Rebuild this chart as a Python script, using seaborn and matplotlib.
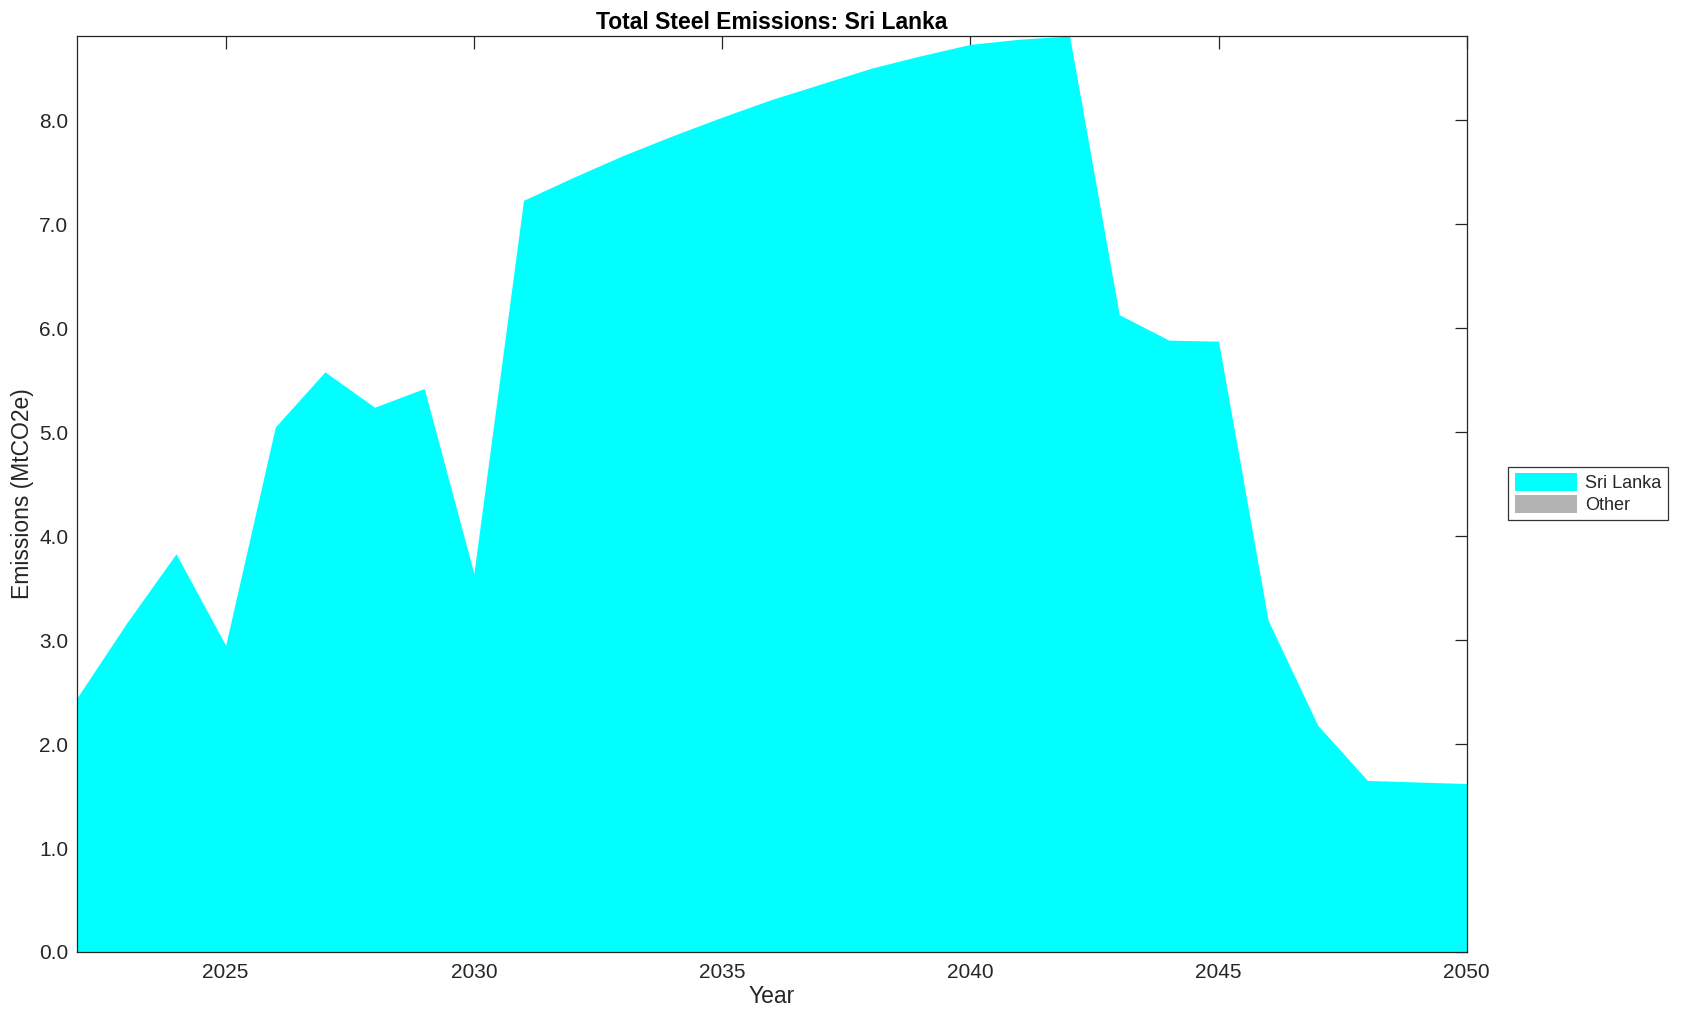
import numpy as np
import pandas as pd
import seaborn as sns
import matplotlib.pyplot as plt
from matplotlib.ticker import FormatStrFormatter

years = list(range(2022, 2051))
sri_lanka = [2.44, 3.16, 3.83, 2.95, 5.05, 5.58, 5.24, 5.42, 3.64, 7.23,
             7.45, 7.66, 7.85, 8.03, 8.20, 8.35, 8.50, 8.62, 8.73, 8.78,
             8.81, 6.13, 5.885, 5.875, 3.19, 2.18, 1.65, 1.635, 1.62]
other = [0.0] * len(years)
series_names = ["Sri Lanka", "Other"]
series_colors = ["#00ffff", "#b3b3b3"]

df = pd.DataFrame({"Year": years, "Sri Lanka": sri_lanka, "Other": other})

sns.set_theme(style="white")
plt.rcParams["font.family"] = ["Liberation Sans", "DejaVu Sans"]

fig = plt.figure(figsize=(16.83, 10.21), dpi=100)
ax = fig.add_axes([0.0456, 0.0676, 0.8259, 0.8971])

ax.stackplot(df["Year"], df["Sri Lanka"], df["Other"],
             colors=series_colors, labels=series_names, linewidth=0)

ax.set_xlim(2022, 2050)
ax.set_ylim(0, max(sri_lanka))
ax.set_xticks(range(2025, 2051, 5))
ax.set_yticks(np.arange(0, 9, 1.0))
ax.yaxis.set_major_formatter(FormatStrFormatter("%.1f"))

ax.tick_params(direction="in", length=9, width=0.9, top=True, right=True,
               labelsize=15, colors="#262626")
ax.tick_params(axis="x", pad=8)
ax.tick_params(axis="y", pad=6)
for s in ax.spines.values():
    s.set_color("#262626")
    s.set_linewidth(0.9)

ax.set_title("Total Steel Emissions: Sri Lanka", fontsize=16.5,
             fontweight="bold", color="black", pad=5)
ax.set_xlabel("Year", fontsize=16.5, color="#262626", labelpad=2)
ax.set_ylabel("Emissions (MtCO2e)", fontsize=16.5, color="#262626", labelpad=4)

leg = ax.legend(loc="upper left", bbox_to_anchor=(1.03, 0.53), fontsize=13,
                frameon=True, fancybox=False, edgecolor="black",
                handlelength=3.45, handleheight=1.15, borderpad=0.35,
                labelspacing=0.15, handletextpad=0.45, borderaxespad=0)
leg.get_frame().set_linewidth(0.9)

fig.savefig("out.png", dpi=100)
